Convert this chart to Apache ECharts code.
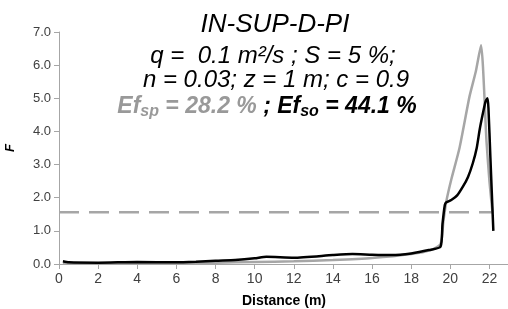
<!DOCTYPE html>
<html>
<head>
<meta charset="utf-8">
<script src="https://cdn.jsdelivr.net/npm/echarts@6/dist/echarts.min.js"></script>
<style>
  html, body { margin: 0; padding: 0; background: #fff; }
  #chart { width: 508px; height: 309px; }
</style>
</head>
<body>
<div id="chart"></div>
<script>
// sp (gray) and so (black) curves
const spDist = [0.2, 2, 4, 6, 8, 10, 12, 14, 16, 18, 19, 19.5, 19.65, 19.8, 20.05, 20.47, 20.98, 21.3, 21.57, 21.85, 22.0, 22.15];
const spF = [0.03, 0.02, 0.02, 0.02, 0.04, 0.06, 0.08, 0.12, 0.18, 0.3, 0.42, 0.6, 1.3, 1.9, 2.55, 3.5, 5.05, 5.8, 6.6, 3.7, 2.5, 1.58];

const soDist = [0.2, 0.5, 2, 4, 6, 7, 8, 9, 10, 10.6, 12, 14, 15, 16, 17, 18, 18.9, 19.5, 19.6, 19.72, 19.8, 20.05, 20.35, 20.65, 20.9, 21.15, 21.35, 21.5, 21.65, 21.8, 21.9, 21.95, 22.05, 22.2];
const soF = [0.08, 0.05, 0.04, 0.06, 0.05, 0.07, 0.1, 0.12, 0.17, 0.22, 0.19, 0.27, 0.3, 0.28, 0.27, 0.32, 0.42, 0.52, 1.2, 1.78, 1.86, 1.93, 2.07, 2.34, 2.62, 3.04, 3.5, 4.05, 4.5, 4.9, 5.0, 4.7, 3.2, 1.0];

const limitDist = [0, 22.2];
const limitF = [1.56, 1.56];

const zip = (xs, ys) => xs.map((x, i) => [x, ys[i]]);

const chart = echarts.init(document.getElementById("chart"));
const font = "Arial, 'Liberation Sans', sans-serif";

const option = {
    animation: false,
    title: [
        {
            text: "IN-SUP-D-PI",
            left: 270, top: 7, textAlign: "center",
            textStyle: { fontFamily: font, fontSize: 26, fontStyle: "italic", fontWeight: "normal", color: "#000" },
        },
        {
            text: "q =  0.1 m²/s ; S = 5 %;",
            left: 268, top: 39, textAlign: "center",
            textStyle: { fontFamily: font, fontSize: 24, fontStyle: "italic", fontWeight: "normal", color: "#000" },
        },
        {
            text: "n = 0.03; z = 1 m; c = 0.9",
            left: 271, top: 63, textAlign: "center",
            textStyle: { fontFamily: font, fontSize: 24, fontStyle: "italic", fontWeight: "normal", color: "#000" },
        },
        {
            text: "{g|Ef}{gs|sp}{g| = 28.2 %}{b| ; Ef}{bs|so}{b| = 44.1 %}",
            left: 262, top: 88, textAlign: "center",
            textStyle: {
                rich: {
                    g: { fontFamily: font, fontSize: 23, fontStyle: "italic", fontWeight: "bold", color: "#999999", lineHeight: 27 },
                    gs: { fontFamily: font, fontSize: 16, fontStyle: "italic", fontWeight: "bold", color: "#999999", lineHeight: 27, padding: [10, 0, 0, 0] },
                    b: { fontFamily: font, fontSize: 23, fontStyle: "italic", fontWeight: "bold", color: "#000", lineHeight: 27 },
                    bs: { fontFamily: font, fontSize: 16, fontStyle: "italic", fontWeight: "bold", color: "#000", lineHeight: 27, padding: [10, 0, 0, 0] },
                },
            },
        },
    ],
    grid: { left: 59, right: -1, top: 32, bottom: 45, outerBoundsMode: "none", containLabel: false },
    xAxis: {
        type: "value",
        min: 0, max: 23, interval: 2,
        name: "Distance (m)",
        nameLocation: "middle",
        nameGap: 30,
        nameTextStyle: { fontFamily: font, fontSize: 14, fontWeight: "bold", color: "#000" },
        axisLine: { onZero: false, lineStyle: { color: "#a6a6a6", width: 1 } },
        axisTick: { show: true, length: 5, lineStyle: { color: "#a6a6a6" } },
        axisLabel: {
            fontFamily: font, fontSize: 14, color: "#404040", margin: 8,
            formatter: (v) => (v % 2 === 0 && v <= 22 ? String(v) : ""),
        },
        splitLine: { show: false },
    },
    yAxis: {
        type: "value",
        min: 0, max: 7, interval: 1,
        name: "F",
        nameLocation: "middle",
        nameGap: 42,
        nameTextStyle: { fontFamily: font, fontSize: 13, fontWeight: "bold", fontStyle: "italic", color: "#000" },
        nameRotate: 90,
        axisLine: { show: true, lineStyle: { color: "#a6a6a6", width: 1 } },
        axisTick: { show: true, length: 5, lineStyle: { color: "#a6a6a6" } },
        axisLabel: {
            fontFamily: font, fontSize: 13, color: "#404040", margin: 8,
            formatter: (v) => v.toFixed(1),
        },
        splitLine: { show: false },
    },
    series: [
        {
            name: "limit",
            type: "line",
            data: zip(limitDist, limitF),
            symbol: "none",
            lineStyle: { color: "#a6a6a6", width: 2.5, type: [20, 10] },
            z: 1,
        },
        {
            name: "Ef sp",
            type: "line",
            data: zip(spDist, spF),
            symbol: "none",
            smooth: 0.2,
            lineStyle: { color: "#a6a6a6", width: 2.5 },
            z: 2,
        },
        {
            name: "Ef so",
            type: "line",
            data: zip(soDist, soF),
            symbol: "none",
            smooth: 0.2,
            lineStyle: { color: "#000000", width: 2.5 },
            z: 3,
        },
    ],
};

chart.setOption(option);
</script>
</body>
</html>
